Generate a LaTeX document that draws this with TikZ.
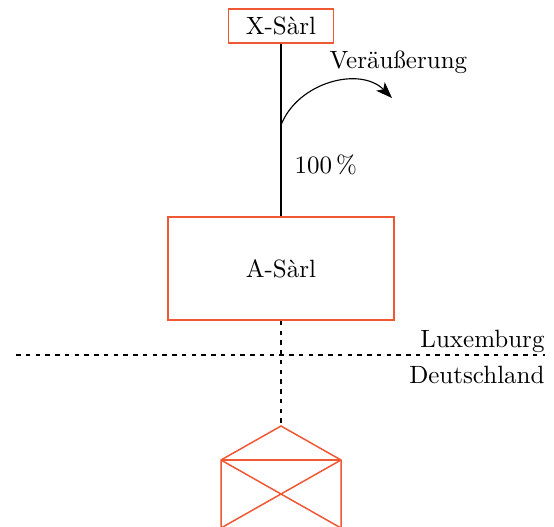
\documentclass[tikz,border=0pt]{standalone}
\usetikzlibrary{arrows.meta}
\definecolor{boxorange}{RGB}{240,88,52}
\begin{document}
\begin{tikzpicture}[x=0.4pt,y=-0.4pt,
  orgbox/.style={draw=boxorange,line width=0.6pt,inner sep=0pt},
  txt/.style={inner sep=0pt},
  link/.style={line width=0.45pt,black},
  dlink/.style={line width=0.45pt,black,dash pattern=on 1.8pt off 2.1pt},
  house/.style={draw=boxorange,line width=0.6pt}]
\useasboundingbox (0,0) rectangle (554,527);
\clip (0,0) rectangle (554,527);
\node[orgbox,minimum width=42pt,minimum height=13.6pt] (X) at (281,26) {X-Sàrl};
\node[orgbox,minimum width=90.4pt,minimum height=41.2pt] (A) at (281,268.5) {A-Sàrl};
\draw[link] (X.south) -- (A.north);
\coordinate (p) at (281,125);
\coordinate (tip) at (392,98);
\draw[link,-{Stealth[length=6.5pt,width=4.8pt,inset=1.6pt]}] (p) .. controls (298,82) and (360,66) .. (tip);
\node[txt,anchor=base west] (v) at (329,68) {Veräußerung};
\node[txt,anchor=base west] (h) at (294,173) {100\,\%};
% border
\coordinate (bl) at (16,355);
\coordinate (br) at (545,355);
\draw[dlink] (bl) -- (br);
\node[txt,anchor=base east] (lux) at (545,347) {Luxemburg};
\node[txt,anchor=base east] (de) at (545,383) {Deutschland};
% house
\coordinate (apex) at (281,426);
\coordinate (el) at (221,460);
\coordinate (er) at (341,460);
\coordinate (fl) at (221,528);
\coordinate (fr) at (341,528);
\draw[dlink] (A.south) -- (apex);
\draw[house] (fl) -- (el) -- (apex) -- (er) -- (fr);
\draw[house] (el) -- (er);
\draw[house] (el) -- (fr);
\draw[house] (er) -- (fl);
\end{tikzpicture}
\end{document}
